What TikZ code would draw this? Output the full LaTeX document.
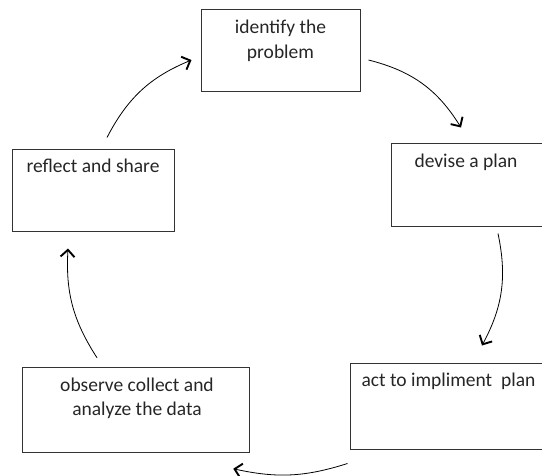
\documentclass[tikz,border=0pt]{standalone}
\usepackage{fontspec}
\setmainfont{Carlito}
\usetikzlibrary{arrows.meta,calc}

\begin{document}
\begin{tikzpicture}[x=1pt, y=-1pt,
    stepbox/.style={draw=black!80, line width=1pt, rectangle, inner sep=0pt},
    steptext/.style={anchor=base, inner sep=0pt, align=center, text=black!85,
        font=\fontsize{19.5}{24.5}\selectfont},
    cyclearrow/.style={line width=0.8pt,
        -{Straight Barb[length=7pt, width=14pt, line width=1.9pt]}}]
    \useasboundingbox (0,0) rectangle (542,475);

    \node[stepbox, minimum width=159pt, minimum height=82pt] (identify) at (280.5,50) {};
    \node[stepbox, minimum width=154pt, minimum height=83pt] (devise) at (468,184.5) {};
    \node[stepbox, minimum width=195pt, minimum height=86pt] (act) at (447.5,406) {};
    \node[stepbox, minimum width=227.5pt, minimum height=84.5pt] (observe) at (136,410) {};
    \node[stepbox, minimum width=162pt, minimum height=82pt] (reflect) at (93,190) {};

    \node[steptext] (identifytext) at ($(identify.north)+(0,49.5)$) {identify the\\problem};
    \node[steptext] (devisetext) at ($(devise.north)+(-2,25)$) {devise a plan};
    \node[steptext] (acttext) at ($(act.north)+(1,24)$) {act to impliment\ \ plan};
    \node[steptext] (observetext) at ($(observe.north)+(1,48.5)$) {observe collect and\\analyze the data};
    \node[steptext] (reflecttext) at ($(reflect.north)+(0,24)$) {reflect and share};

    \draw[cyclearrow] ($(reflect.north)+(14,-11)$) to[bend left=20] ($(identify.west)+(-9,10)$);
    \draw[cyclearrow] ($(identify.east)+(8,10)$) to[bend left=22] ($(devise.north)+(-7,-15)$);
    \draw[cyclearrow] ($(devise.south)+(30,7)$) to[bend left=20] ($(act.north)+(34.5,-17)$);
    \draw[cyclearrow] ($(act.south west)+(-2,14)$) to[bend left=15] ($(observe.south east)+(-17,16)$);
    \draw[cyclearrow] ($(observe.north)+(-39,-9.5)$) to[bend left=18] ($(reflect.south)+(-25,17)$);
\end{tikzpicture}
\end{document}
